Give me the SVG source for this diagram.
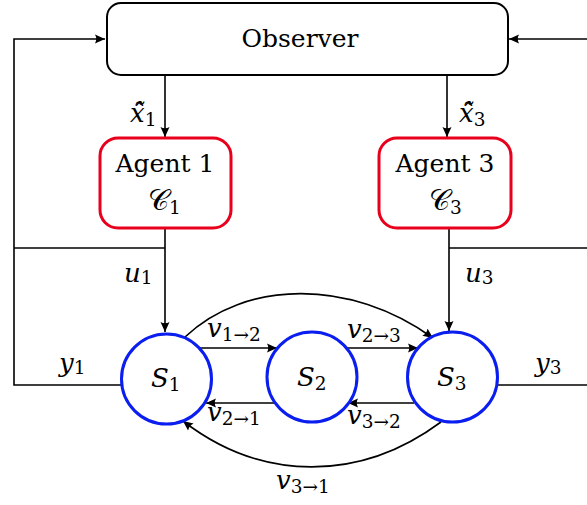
<svg xmlns="http://www.w3.org/2000/svg" width="587" height="505" viewBox="0 0 587 505">
<style>
.ln{fill:none;stroke:#000;stroke-width:1.6}
.arr{marker-end:url(#ah)}
.obs{fill:#fff;stroke:#000;stroke-width:2}
.agent{fill:#fff;stroke:#e8001c;stroke-width:3}
.sys{fill:#fff;stroke:#0a1ef0;stroke-width:3}
text{font-family:'DejaVu Serif',serif;fill:#000}
.big{font-size:25px}
.m{font-style:italic;font-size:26px}
.s{font-style:normal;font-size:18.5px}
.cal{font-style:normal;font-size:29px}
</style>
<defs>
<marker id="ah" markerUnits="userSpaceOnUse" markerWidth="14" markerHeight="12" refX="10" refY="5" orient="auto" viewBox="0 0 14 10">
<path d="M0,0.5 L10,5 L0,9.5 Q2.5,5 0,0.5 Z" fill="#000"/>
</marker>
</defs>
<g id="connectors">
<path class="ln arr" d="M121,385 H14 V39 H105"/>
<path class="ln" d="M14,248 H165"/>
<path class="ln arr" d="M587,39 H509"/>
<path class="ln" d="M449,248 H587"/>
<path class="ln" d="M497,385 H587"/>
<path class="ln arr" d="M165,75 V137"/>
<path class="ln arr" d="M447,75 V137"/>
<path class="ln arr" d="M165,229 V332"/>
<path class="ln arr" d="M449,229 V331"/>
<path class="ln arr" d="M199,348 H277"/>
<path class="ln arr" d="M345,348 H418"/>
<path class="ln arr" d="M275,403 H206"/>
<path class="ln arr" d="M414,403 H348"/>
<path class="ln arr" d="M185,337 C245,280 350,278 433,338"/>
<path class="ln arr" d="M441,422 C360,482 262,482 183,421"/>
</g>
<g id="observer">
<rect class="obs" x="107" y="3" width="401" height="72" rx="14"/>
<text class="big" x="300" y="47" text-anchor="middle">Observer</text>
</g>
<g id="agent1">
<rect class="agent" x="100" y="138" width="131" height="90" rx="18"/>
<text class="big" x="165" y="172" text-anchor="middle">Agent 1</text>
<text class="cal" x="148" y="210">𝒞<tspan class="s" dy="4">1</tspan></text>
</g>
<g id="agent3">
<rect class="agent" x="379" y="138" width="132" height="90" rx="18"/>
<text class="big" x="445" y="172" text-anchor="middle">Agent 3</text>
<text class="cal" x="429" y="210">𝒞<tspan class="s" dy="4">3</tspan></text>
</g>
<g id="S1">
<circle class="sys" cx="166.5" cy="379" r="45"/>
<text class="m" x="151" y="387">S<tspan class="s" dy="4">1</tspan></text>
</g>
<g id="S2">
<circle class="sys" cx="312" cy="377" r="45"/>
<text class="m" x="297" y="386">S<tspan class="s" dy="4">2</tspan></text>
</g>
<g id="S3">
<circle class="sys" cx="452.5" cy="377" r="45"/>
<text class="m" x="437" y="386">S<tspan class="s" dy="4">3</tspan></text>
</g>
<g id="labels">
<text class="m" x="130" y="122">x̂̃<tspan class="s" dy="4">1</tspan></text>
<text class="m" x="459" y="122">x̂̃<tspan class="s" dy="4">3</tspan></text>
<text class="m" x="124" y="282">u<tspan class="s" dy="2">1</tspan></text>
<text class="m" x="465" y="282">u<tspan class="s" dy="2">3</tspan></text>
<text class="m" x="59" y="372">y<tspan class="s" dy="2">1</tspan></text>
<text class="m" x="535" y="372">y<tspan class="s" dy="2">3</tspan></text>
<text class="m" x="207" y="337">v<tspan class="s" dy="4">1→2</tspan></text>
<text class="m" x="347" y="338">v<tspan class="s" dy="4">2→3</tspan></text>
<text class="m" x="207" y="421">v<tspan class="s" dy="4">2→1</tspan></text>
<text class="m" x="347" y="424">v<tspan class="s" dy="4">3→2</tspan></text>
<text class="m" x="276" y="489">v<tspan class="s" dy="4">3→1</tspan></text>
</g>
</svg>
